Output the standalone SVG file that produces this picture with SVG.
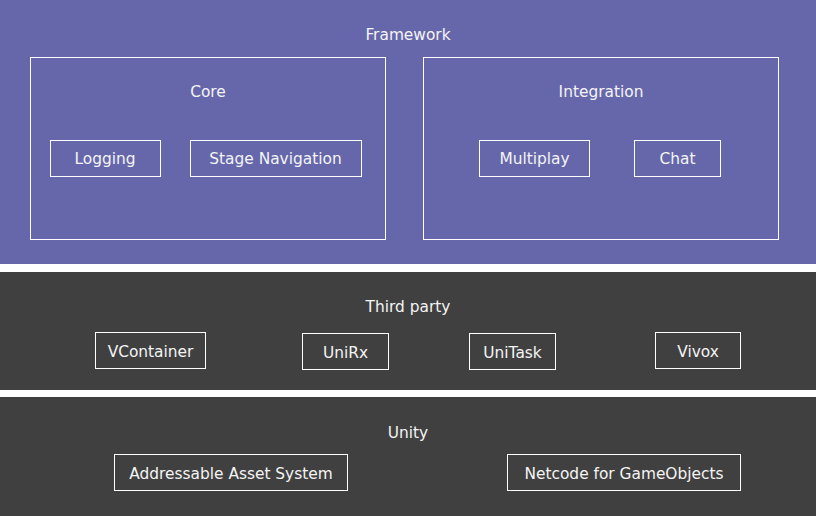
<svg xmlns="http://www.w3.org/2000/svg" width="816" height="516" viewBox="0 0 816 516">
<style>
.band-fw{fill:#6667ab}
.band-dk{fill:#404040}
.box{fill:none;stroke:#ffffff;stroke-width:1}
text{font-family:"DejaVu Sans","Liberation Sans",sans-serif;font-size:15.4px;fill:#f4f4f4;text-anchor:middle}
</style>
<rect width="816" height="516" fill="#ffffff"/>
<g id="framework">
<rect class="band-fw" x="0" y="0" width="816" height="264"/>
<text x="408" y="40">Framework</text>
</g>
<g id="core">
<rect class="box" x="30.5" y="57.5" width="355" height="182"/>
<text x="208" y="97">Core</text>
</g>
<g id="logging">
<rect class="box" x="50.5" y="140.5" width="110" height="36"/>
<text x="105" y="164">Logging</text>
</g>
<g id="stage-navigation">
<rect class="box" x="190.5" y="140.5" width="171" height="36"/>
<text x="275.5" y="164">Stage Navigation</text>
</g>
<g id="integration">
<rect class="box" x="423.5" y="57.5" width="355" height="182"/>
<text x="601" y="97">Integration</text>
</g>
<g id="multiplay">
<rect class="box" x="479.5" y="140.5" width="110" height="36"/>
<text x="534.5" y="164">Multiplay</text>
</g>
<g id="chat">
<rect class="box" x="634.5" y="140.5" width="86" height="36"/>
<text x="677.5" y="164">Chat</text>
</g>
<g id="third-party">
<rect class="band-dk" x="0" y="272" width="816" height="118"/>
<text x="408" y="312">Third party</text>
</g>
<g id="vcontainer">
<rect class="box" x="95.5" y="332.5" width="110" height="36"/>
<text x="150.5" y="357">VContainer</text>
</g>
<g id="unirx">
<rect class="box" x="302.5" y="333.5" width="86" height="36"/>
<text x="345.5" y="358">UniRx</text>
</g>
<g id="unitask">
<rect class="box" x="469.5" y="333.5" width="86" height="36"/>
<text x="512.5" y="358">UniTask</text>
</g>
<g id="vivox">
<rect class="box" x="655.5" y="332.5" width="85" height="36"/>
<text x="698" y="357">Vivox</text>
</g>
<g id="unity">
<rect class="band-dk" x="0" y="397" width="816" height="119"/>
<text x="408" y="437.5">Unity</text>
</g>
<g id="addressable">
<rect class="box" x="114.5" y="454.5" width="233" height="36"/>
<text x="231" y="479">Addressable Asset System</text>
</g>
<g id="netcode">
<rect class="box" x="507.5" y="454.5" width="233" height="36"/>
<text x="624" y="479">Netcode for GameObjects</text>
</g>
<g id="connectors"></g>
</svg>
